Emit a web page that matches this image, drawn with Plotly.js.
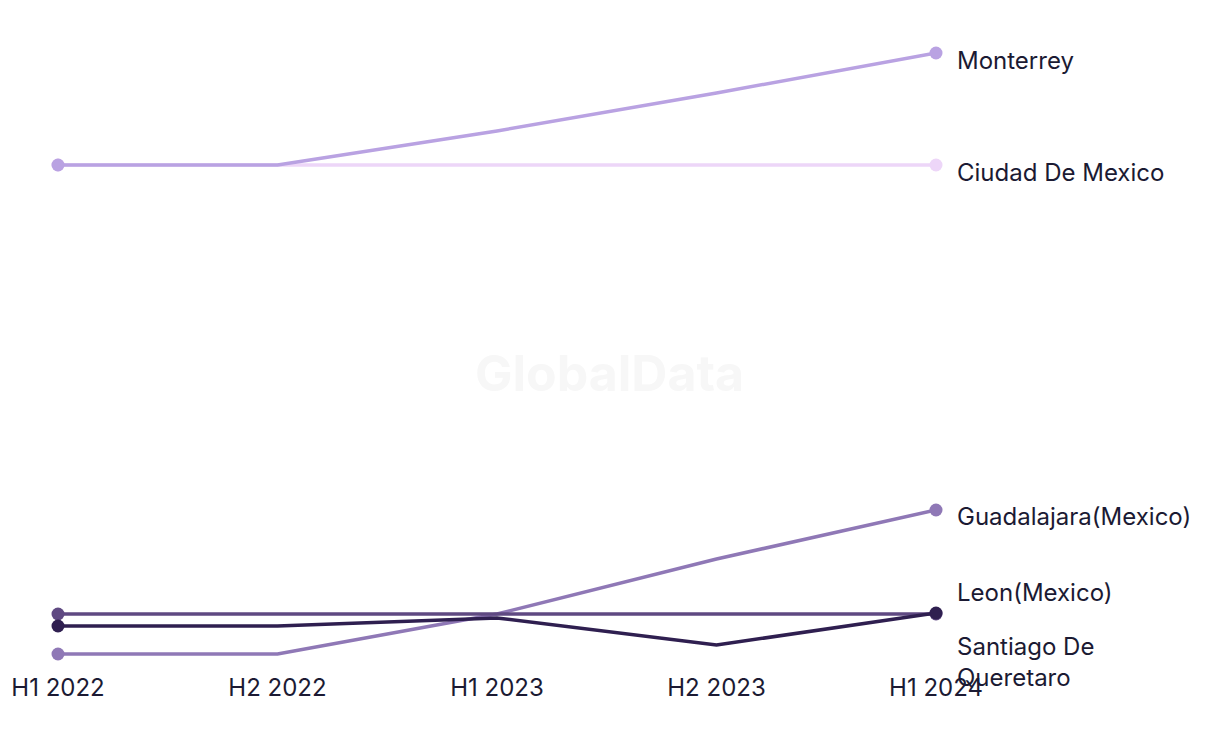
<!DOCTYPE html>
<html>
<head>
<meta charset="utf-8">
<script src="https://cdn.plot.ly/plotly-3.0.1.min.js"></script>
<style>html,body{margin:0;padding:0;background:#fff;}#chart{width:1220px;height:744px;}</style>
</head>
<body>
<div id="chart"></div>
<script>
const periods = ["H1 2022", "H2 2022", "H1 2023", "H2 2023", "H1 2024"];
const cities = ["Ciudad De Mexico", "Monterrey", "Guadalajara(Mexico)", "Leon(Mexico)", "Santiago De Queretaro"];
const ciudadDeMexico = [53.5, 53.5, 53.5, 53.5, 53.5];
const monterrey = [53.5, 53.5, 56.9, 60.7, 64.7];
const guadalajara = [4.6, 4.6, 8.6, 14.1, 19.0];
const leon = [8.6, 8.6, 8.6, 8.6, 8.6];
const queretaro = [7.4, 7.4, 8.2, 5.5, 8.7];
const seriesValues = [ciudadDeMexico, monterrey, guadalajara, leon, queretaro];
const colors = ["#edd6f8", "#b9a2e2", "#8f78b6", "#5f4982", "#2f1f50"];

const last = periods.length - 1;
const markerSizes = periods.map((p, j) => (j === 0 || j === last) ? 13 : 0);

const traces = cities.map((c, i) => ({
  type: "scatter", mode: "lines+markers", name: c,
  x: periods, y: seriesValues[i],
  line: {color: colors[i], width: 3.5},
  marker: {color: colors[i], size: markerSizes, opacity: 1, line: {width: 0}},
  cliponaxis: false, hoverinfo: "skip"
}));

const fam = "Inter, 'Open Sans', sans-serif";
const labelFont = {family: fam, size: 24, color: "#1b1a33"};
const yshifts = [-7, -7, -6, 22, -49];
const annotations = cities.map((c, i) => ({
  x: periods[last], y: seriesValues[i][last], xref: "x", yref: "y",
  text: c === "Santiago De Queretaro" ? "Santiago De<br>Queretaro" : c,
  showarrow: false, xanchor: "left", yanchor: "middle", align: "left",
  xshift: 19, yshift: yshifts[i], font: labelFont
}));
annotations.push({
  x: 0.6287, y: 0.466, xref: "paper", yref: "paper",
  text: "<b>GlobalData</b>", showarrow: false,
  font: {family: fam, size: 50, color: "#f7f7f7"}
});

const shapes = [
  {type: "line", xref: "x", yref: "y", xsizemode: "pixel", ysizemode: "pixel",
   xanchor: periods[last], yanchor: leon[last], x0: 1, x1: 13, y0: 4, y1: 27,
   line: {color: colors[3], width: 1.5, dash: "dot"}, layer: "below"},
  {type: "line", xref: "x", yref: "y", xsizemode: "pixel", ysizemode: "pixel",
   xanchor: periods[last], yanchor: queretaro[last], x0: 1, x1: 13, y0: -4, y1: -27,
   line: {color: colors[3], width: 1.5, dash: "dot"}, layer: "below"}
];

const layout = {
  width: 1220, height: 744,
  margin: {l: 58, r: 284, t: 40, b: 80},
  paper_bgcolor: "#ffffff", plot_bgcolor: "#ffffff",
  showlegend: false,
  xaxis: {type: "category", range: [0, 4], showgrid: false, zeroline: false, showline: false,
          ticks: "", ticklabelstandoff: 7, tickfont: {family: fam, size: 24, color: "#1b1a33"}},
  yaxis: {range: [3.6, 66], visible: false, showgrid: false, zeroline: false},
  annotations: annotations,
  shapes: shapes
};

Plotly.newPlot("chart", traces, layout, {displayModeBar: false, staticPlot: true});
</script>
</body>
</html>
